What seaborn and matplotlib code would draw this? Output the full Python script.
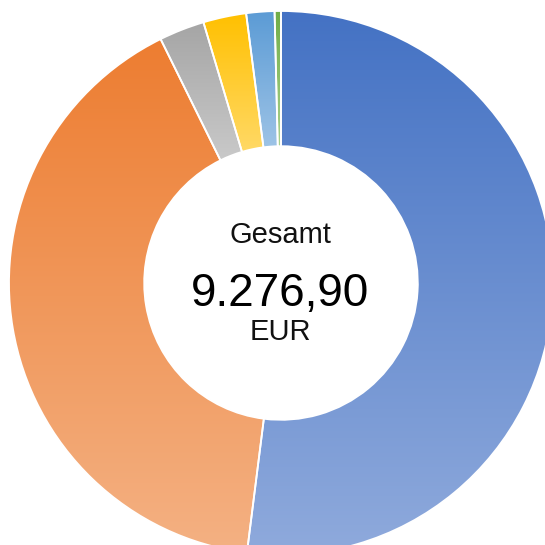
import numpy as np
import seaborn as sns
import matplotlib.pyplot as plt
from matplotlib.colors import LinearSegmentedColormap

# Werte je Kategorie (EUR), im Uhrzeigersinn ab 12 Uhr
kategorien = ["A", "B", "C", "D", "E", "F"]
betraege = [4823.90, 3776.00, 250.00, 237.00, 155.00, 35.00]
farben_oben = ["#4472C4", "#ED7D31", "#A5A5A5", "#FFC000", "#5B9BD5", "#70AD47"]
farben_unten = ["#8FAADC", "#F4B183", "#C9C9C9", "#FFD966", "#9DC3E6", "#A9D18E"]

titel = "Gesamt"
summe_text = "9.276,90"
waehrung = "EUR"

sns.set_theme(style="white")
plt.rcParams["font.family"] = ["Liberation Sans", "DejaVu Sans"]

fig = plt.figure(figsize=(5.45, 5.45), dpi=100)
ax = fig.add_axes([0, 0, 1, 1])

# Donut ragt rechts und unten aus dem Bild
r_px = 272
cx, cy = 281, 283
ax.set_xlim(-cx / r_px, (545 - cx) / r_px)
ax.set_ylim(-(545 - cy) / r_px, cy / r_px)
ax.set_aspect("equal")
ax.axis("off")

wedges, _ = ax.pie(betraege, startangle=90, counterclock=False,
                   radius=1.0, wedgeprops=dict(width=0.497, edgecolor="white", linewidth=1.3),
                   colors=farben_oben)
ax.set_xlim(-cx / r_px, (545 - cx) / r_px)
ax.set_ylim(-(545 - cy) / r_px, cy / r_px)

# Verlauf je Segment: oben dunkel, unten hell
for w, c1, c2 in zip(wedges, farben_oben, farben_unten):
    bb = w.get_path().get_extents(w.get_patch_transform())
    cmap = LinearSegmentedColormap.from_list("g", [c1, c2])
    grad = np.linspace(0, 1, 256).reshape(-1, 1)
    im = ax.imshow(grad, cmap=cmap, aspect="auto", origin="upper",
                   extent=(bb.x0, bb.x1, bb.y0, bb.y1), zorder=1, interpolation="bilinear")
    im.set_clip_path(w)
    w.set_facecolor("none")
    w.set_zorder(2)

ax.set_xlim(-cx / r_px, (545 - cx) / r_px)
ax.set_ylim(-(545 - cy) / r_px, cy / r_px)

fig.text(280 / 545, 1 - 243 / 545, titel, ha="center", va="baseline", fontsize=21, color="#111111")
fig.text(280 / 545, 1 - 306 / 545, summe_text, ha="center", va="baseline", fontsize=33, color="#000000")
fig.text(280 / 545, 1 - 340 / 545, waehrung, ha="center", va="baseline", fontsize=21, color="#111111")

fig.savefig("out.png", dpi=100)
